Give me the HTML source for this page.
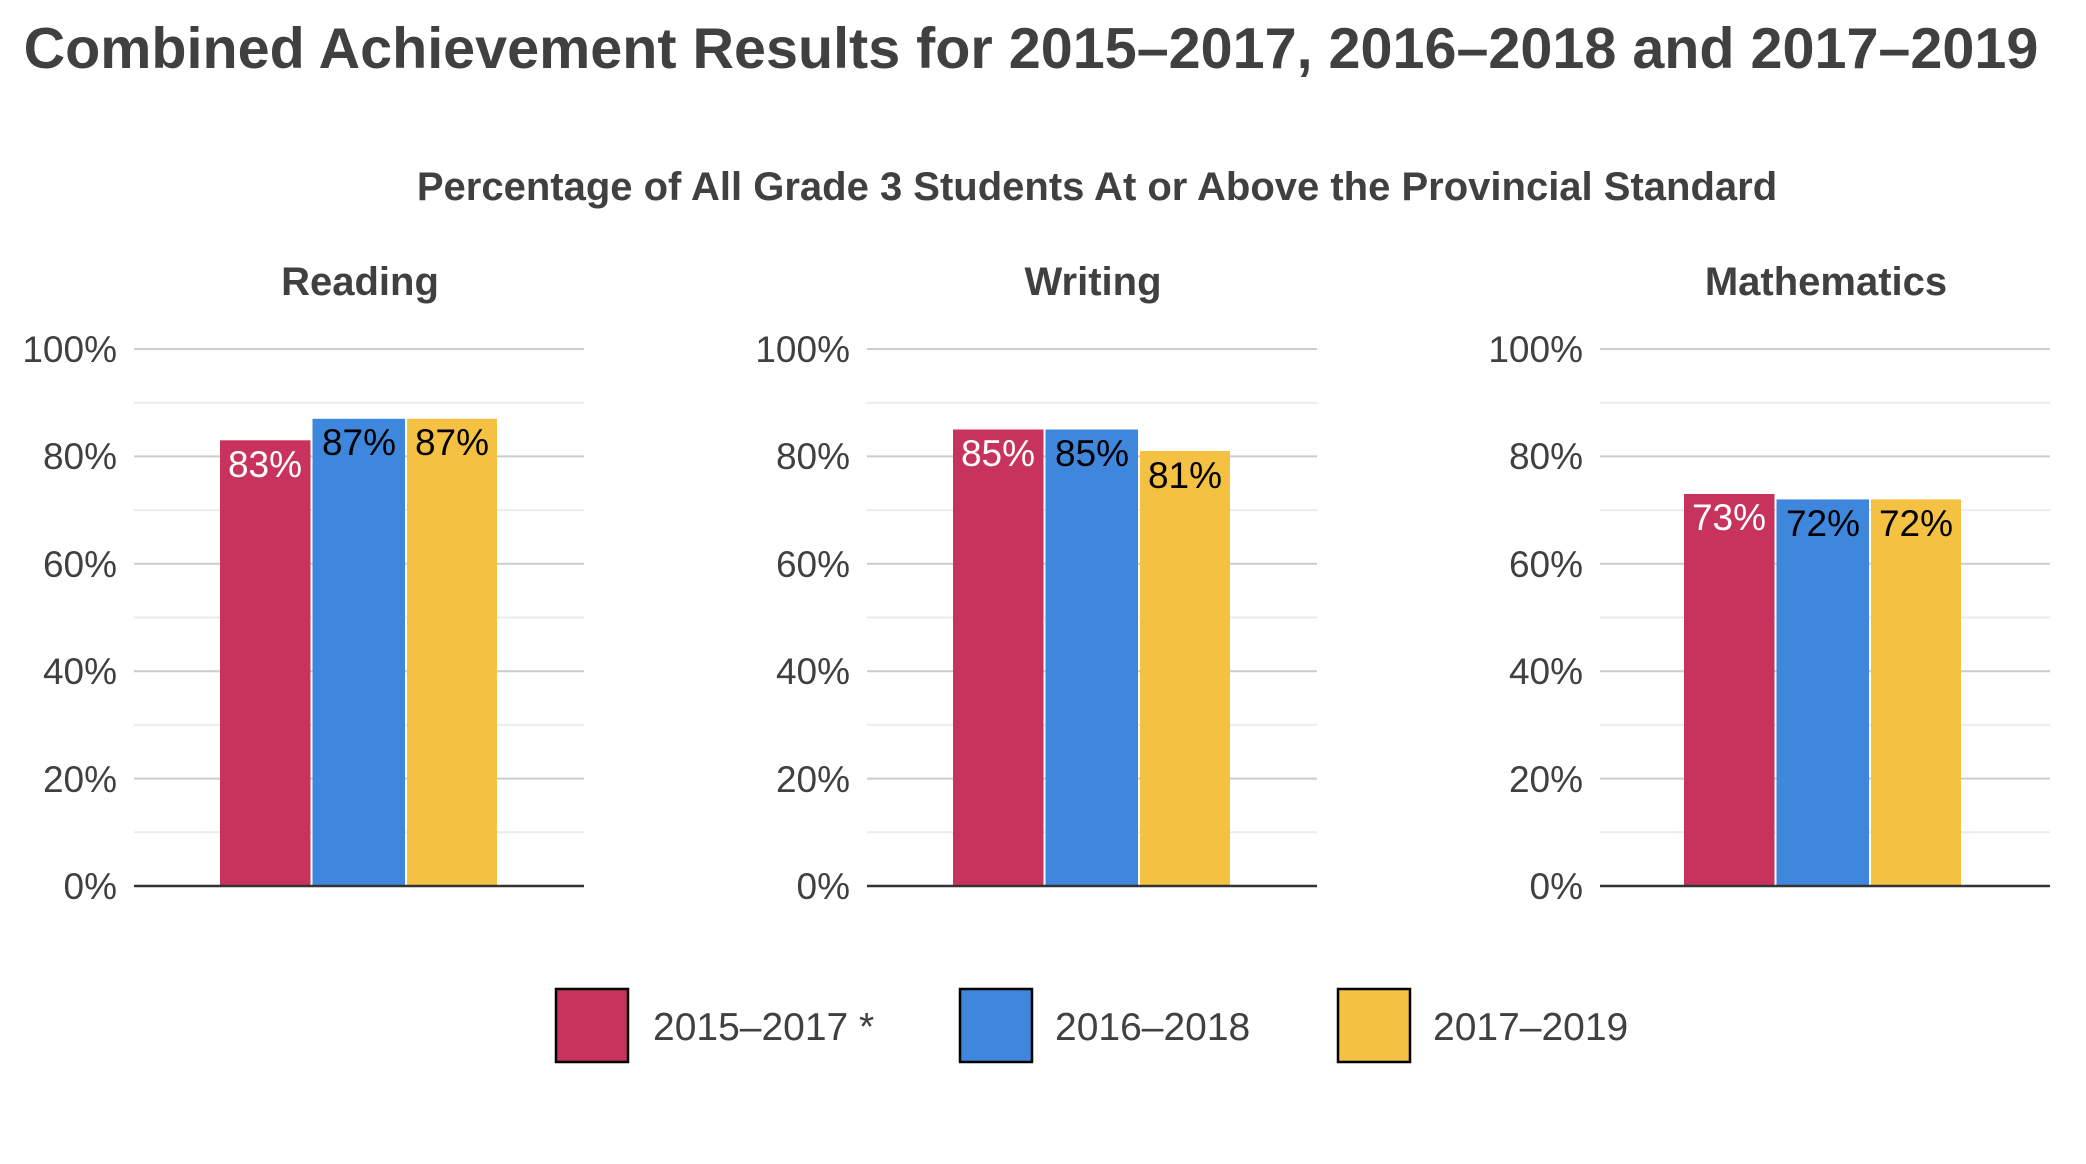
<!DOCTYPE html>
<html><head><meta charset="utf-8"><style>
html,body{margin:0;padding:0;background:#fff;}
svg{display:block;font-family:"Liberation Sans",Arial,sans-serif;}
</style></head><body>
<svg width="2086" height="1164" viewBox="0 0 2086 1164" xmlns="http://www.w3.org/2000/svg">
<text x="1031" y="68" text-anchor="middle" font-size="57.5" font-weight="bold" fill="#404040">Combined Achievement Results for 2015–2017, 2016–2018 and 2017–2019</text>
<text x="1097" y="200" text-anchor="middle" font-size="40" font-weight="bold" fill="#404040">Percentage of All Grade 3 Students At or Above the Provincial Standard</text>
<g>
<text x="360" y="295" text-anchor="middle" font-size="40" font-weight="bold" fill="#404040">Reading</text>
<g stroke="#ebebeb" stroke-width="2"><line x1="134" x2="584" y1="402.7" y2="402.7"/><line x1="134" x2="584" y1="510.1" y2="510.1"/><line x1="134" x2="584" y1="617.5" y2="617.5"/><line x1="134" x2="584" y1="724.9" y2="724.9"/><line x1="134" x2="584" y1="832.3" y2="832.3"/></g>
<g stroke="#cccccc" stroke-width="2"><line x1="134" x2="584" y1="349" y2="349"/><line x1="134" x2="584" y1="456.4" y2="456.4"/><line x1="134" x2="584" y1="563.8" y2="563.8"/><line x1="134" x2="584" y1="671.2" y2="671.2"/><line x1="134" x2="584" y1="778.6" y2="778.6"/></g>
<g font-size="37" fill="#404040" text-anchor="end"><text x="117" y="362">100%</text><text x="117" y="469">80%</text><text x="117" y="577">60%</text><text x="117" y="684">40%</text><text x="117" y="792">20%</text><text x="117" y="899">0%</text></g>
<rect x="220" y="440.3" width="90.5" height="445.7" fill="#c8335e"/>
<rect x="312.5" y="418.8" width="92.5" height="467.2" fill="#3e87dd"/>
<rect x="407" y="418.8" width="90" height="467.2" fill="#f4c142"/>
<g font-size="37" text-anchor="middle"><text x="265" y="477" fill="#fff">83%</text><text x="359" y="455" fill="#000">87%</text><text x="452" y="455" fill="#000">87%</text></g>
<line x1="134" x2="584" y1="886" y2="886" stroke="#333" stroke-width="2.5"/>
</g>
<g transform="translate(733,0)">
<text x="360" y="295" text-anchor="middle" font-size="40" font-weight="bold" fill="#404040">Writing</text>
<g stroke="#ebebeb" stroke-width="2"><line x1="134" x2="584" y1="402.7" y2="402.7"/><line x1="134" x2="584" y1="510.1" y2="510.1"/><line x1="134" x2="584" y1="617.5" y2="617.5"/><line x1="134" x2="584" y1="724.9" y2="724.9"/><line x1="134" x2="584" y1="832.3" y2="832.3"/></g>
<g stroke="#cccccc" stroke-width="2"><line x1="134" x2="584" y1="349" y2="349"/><line x1="134" x2="584" y1="456.4" y2="456.4"/><line x1="134" x2="584" y1="563.8" y2="563.8"/><line x1="134" x2="584" y1="671.2" y2="671.2"/><line x1="134" x2="584" y1="778.6" y2="778.6"/></g>
<g font-size="37" fill="#404040" text-anchor="end"><text x="117" y="362">100%</text><text x="117" y="469">80%</text><text x="117" y="577">60%</text><text x="117" y="684">40%</text><text x="117" y="792">20%</text><text x="117" y="899">0%</text></g>
<rect x="220" y="429.5" width="90.5" height="456.5" fill="#c8335e"/>
<rect x="312.5" y="429.5" width="92.5" height="456.5" fill="#3e87dd"/>
<rect x="407" y="451" width="90" height="435" fill="#f4c142"/>
<g font-size="37" text-anchor="middle"><text x="265" y="466" fill="#fff">85%</text><text x="359" y="466" fill="#000">85%</text><text x="452" y="488" fill="#000">81%</text></g>
<line x1="134" x2="584" y1="886" y2="886" stroke="#333" stroke-width="2.5"/>
</g>
<g transform="translate(1466,0)">
<text x="360" y="295" text-anchor="middle" font-size="40" font-weight="bold" fill="#404040">Mathematics</text>
<g stroke="#ebebeb" stroke-width="2"><line x1="134" x2="584" y1="402.7" y2="402.7"/><line x1="134" x2="584" y1="510.1" y2="510.1"/><line x1="134" x2="584" y1="617.5" y2="617.5"/><line x1="134" x2="584" y1="724.9" y2="724.9"/><line x1="134" x2="584" y1="832.3" y2="832.3"/></g>
<g stroke="#cccccc" stroke-width="2"><line x1="134" x2="584" y1="349" y2="349"/><line x1="134" x2="584" y1="456.4" y2="456.4"/><line x1="134" x2="584" y1="563.8" y2="563.8"/><line x1="134" x2="584" y1="671.2" y2="671.2"/><line x1="134" x2="584" y1="778.6" y2="778.6"/></g>
<g font-size="37" fill="#404040" text-anchor="end"><text x="117" y="362">100%</text><text x="117" y="469">80%</text><text x="117" y="577">60%</text><text x="117" y="684">40%</text><text x="117" y="792">20%</text><text x="117" y="899">0%</text></g>
<rect x="218" y="494" width="90.5" height="392" fill="#c8335e"/>
<rect x="310.5" y="499.4" width="92.5" height="386.6" fill="#3e87dd"/>
<rect x="405" y="499.4" width="90" height="386.6" fill="#f4c142"/>
<g font-size="37" text-anchor="middle"><text x="263" y="530" fill="#fff">73%</text><text x="357" y="536" fill="#000">72%</text><text x="450" y="536" fill="#000">72%</text></g>
<line x1="134" x2="584" y1="886" y2="886" stroke="#333" stroke-width="2.5"/>
</g>
<g stroke="#000" stroke-width="2.5">
<rect x="556" y="989" width="72" height="73" fill="#c8335e"/>
<rect x="960" y="989" width="72" height="73" fill="#3e87dd"/>
<rect x="1338" y="989" width="72" height="73" fill="#f4c142"/>
</g>
<g font-size="39" fill="#404040">
<text x="653" y="1040">2015–2017 *</text>
<text x="1055" y="1040">2016–2018</text>
<text x="1433" y="1040">2017–2019</text>
</g>
</svg>
</body></html>
